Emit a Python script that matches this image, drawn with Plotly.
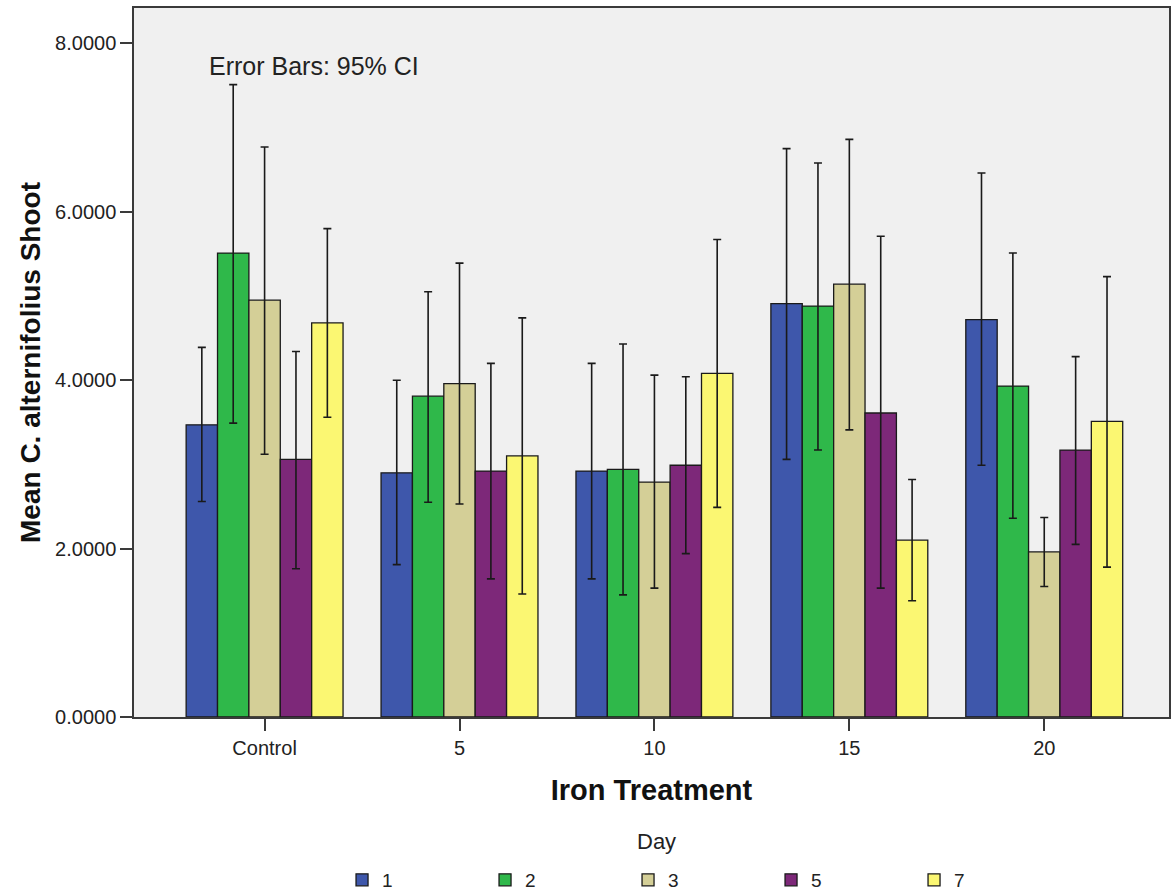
import plotly.graph_objects as go

# Iron treatment levels (x categories) and sampling days (series)
treatments = ["Control", "5", "10", "15", "20"]
days = ["1", "2", "3", "5", "7"]

# Mean shoot values per day, in treatment order
mean_day1 = [3.47, 2.90, 2.92, 4.91, 4.72]
mean_day2 = [5.51, 3.81, 2.94, 4.88, 3.93]
mean_day3 = [4.95, 3.96, 2.79, 5.14, 1.96]
mean_day5 = [3.06, 2.92, 2.99, 3.61, 3.17]
mean_day7 = [4.68, 3.10, 4.08, 2.10, 3.51]

# Upper 95% CI limits
upper_day1 = [4.39, 4.00, 4.20, 6.75, 6.46]
upper_day2 = [7.51, 5.05, 4.43, 6.58, 5.51]
upper_day3 = [6.77, 5.39, 4.06, 6.86, 2.37]
upper_day5 = [4.34, 4.20, 4.04, 5.71, 4.28]
upper_day7 = [5.80, 4.74, 5.67, 2.82, 5.23]

# Lower 95% CI limits
lower_day1 = [2.56, 1.81, 1.64, 3.06, 2.99]
lower_day2 = [3.49, 2.55, 1.45, 3.17, 2.36]
lower_day3 = [3.12, 2.53, 1.53, 3.41, 1.55]
lower_day5 = [1.76, 1.64, 1.94, 1.53, 2.05]
lower_day7 = [3.56, 1.46, 2.49, 1.38, 1.78]

means = [mean_day1, mean_day2, mean_day3, mean_day5, mean_day7]
uppers = [upper_day1, upper_day2, upper_day3, upper_day5, upper_day7]
lowers = [lower_day1, lower_day2, lower_day3, lower_day5, lower_day7]
colors = ["#3E57AB", "#2FB84A", "#D4CF97", "#7D2879", "#FBF772"]

FONT = "Liberation Sans, Arial, sans-serif"

fig = go.Figure()
for day, m, up, lo, col in zip(days, means, uppers, lowers, colors):
    fig.add_trace(go.Bar(
        name=day,
        x=treatments,
        y=m,
        marker=dict(color=col, line=dict(color="#1a1a1a", width=1.3)),
        error_y=dict(
            type="data",
            symmetric=False,
            array=[u - v for u, v in zip(up, m)],
            arrayminus=[v - l for v, l in zip(m, lo)],
            color="#1a1a1a",
            thickness=1.6,
            width=4,
        ),
    ))

fig.update_layout(
    width=1171,
    height=892,
    margin=dict(l=134, r=2, t=8, b=175, autoexpand=False),
    paper_bgcolor="white",
    plot_bgcolor="#F0F0F0",
    barmode="group",
    bargap=0.195,
    bargroupgap=0,
    font=dict(family=FONT, color="#222222"),
    showlegend=True,
    legend=dict(
        orientation="h",
        x=0.201,
        xanchor="left",
        y=-0.203,
        yanchor="top",
        entrywidth=98,
        entrywidthmode="pixels",
        itemwidth=30,
        font=dict(size=19, family=FONT, color="#222222"),
        traceorder="normal",
    ),
    annotations=[
        dict(
            text="Error Bars: 95% CI",
            xref="paper", yref="paper",
            x=0.0705, y=0.918,
            xanchor="left", yanchor="middle",
            showarrow=False,
            font=dict(size=25, family=FONT, color="#222222"),
        ),
        dict(
            text="Day",
            xref="paper", yref="paper",
            x=0.505, y=-0.175,
            xanchor="center", yanchor="middle",
            showarrow=False,
            font=dict(size=22, family=FONT, color="#222222"),
        ),
    ],
)

fig.update_xaxes(
    type="category",
    range=[-0.67, 4.64],
    automargin=False,
    showline=True, mirror=True, linecolor="#3a3a3a", linewidth=1.5,
    ticks="outside", ticklen=12, tickwidth=1.5, tickcolor="#3a3a3a",
    tickfont=dict(size=20, family=FONT, color="#222222"),
    showgrid=False, zeroline=False,
    title=dict(
        text="Iron Treatment",
        font=dict(size=29, family=FONT, color="#111111", weight="bold"),
        standoff=22,
    ),
)

fig.update_yaxes(
    range=[0, 8.42],
    tickvals=[0, 2, 4, 6, 8],
    tickformat=".4f",
    automargin=False,
    showline=True, mirror=True, linecolor="#3a3a3a", linewidth=1.5,
    ticks="outside", ticklen=12, tickwidth=1.5, tickcolor="#3a3a3a",
    tickfont=dict(size=20, family=FONT, color="#222222"),
    showgrid=False, zeroline=False,
    title=dict(
        text="Mean C. alternifolius Shoot",
        font=dict(size=28, family=FONT, color="#111111", weight="bold"),
        standoff=6,
    ),
)

fig.write_html("out.html")
